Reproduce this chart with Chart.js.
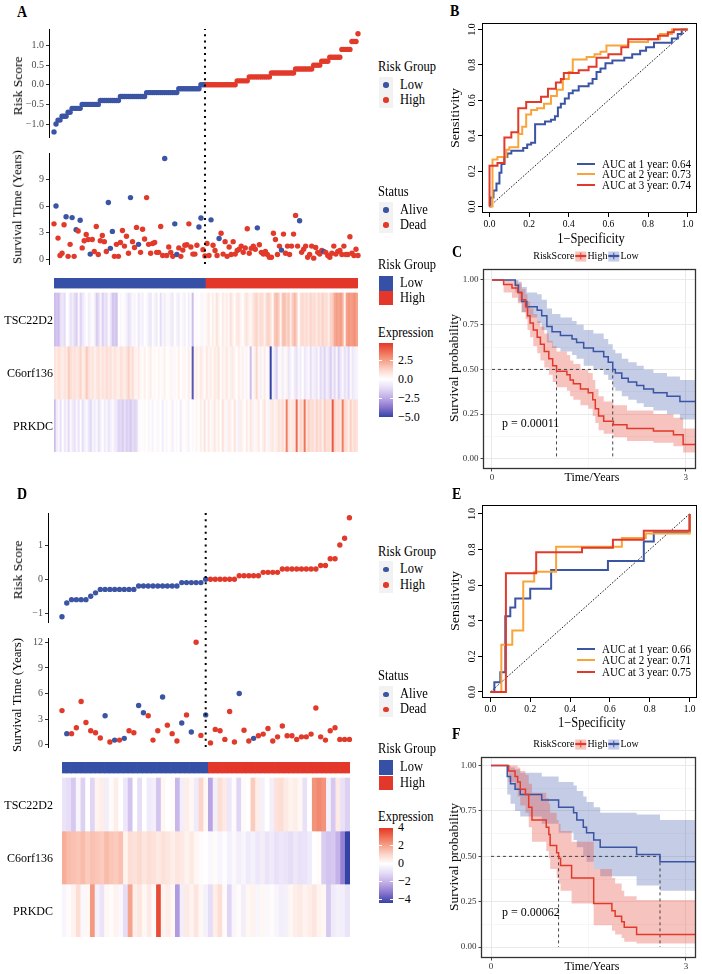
<!DOCTYPE html>
<html><head><meta charset="utf-8">
<script src="https://cdn.jsdelivr.net/npm/chart.js@4/dist/chart.umd.min.js"></script>
<style>
body{margin:0;background:#fff;width:702px;height:974px;position:relative;overflow:hidden;font-family:"Liberation Serif","Times New Roman",serif;}
canvas{position:absolute;}
.t{position:absolute;white-space:nowrap;line-height:1;color:#000;}
.r{position:absolute;}
</style></head><body>
<script>
// ================= DATA =================
// Panel A (training cohort): samples ordered by risk score
const nLowA = 76;
const riskScoreA = [
-1.2,-1.0,-0.9,-0.9,-0.8,-0.8,-0.8,-0.7,-0.7,-0.6,-0.6,-0.6,-0.6,-0.6,
-0.5,-0.5,-0.5,-0.5,-0.5,-0.5,-0.5,-0.5,-0.5,
-0.4,-0.4,-0.4,-0.4,-0.4,-0.4,-0.4,-0.4,-0.4,-0.4,
-0.3,-0.3,-0.3,-0.3,-0.3,-0.3,-0.3,-0.3,-0.3,-0.3,-0.3,-0.3,-0.3,
-0.2,-0.2,-0.2,-0.2,-0.2,-0.2,-0.2,-0.2,-0.2,-0.2,-0.2,-0.2,-0.2,-0.2,-0.2,-0.2,
-0.1,-0.1,-0.1,-0.1,-0.1,-0.1,-0.1,-0.1,-0.1,-0.1,-0.1,
0,0,0,
0,0,0,0,0,0,0,0,0,0,0,0,0,0,0,
0.1,0.1,0.1,0.1,0.1,0.1,
0.2,0.2,0.2,0.2,0.2,0.2,0.2,0.2,0.2,0.2,0.2,
0.3,0.3,0.3,0.3,0.3,0.3,0.3,0.3,0.3,0.3,0.3,0.3,
0.4,0.4,0.4,0.4,0.4,0.4,0.4,0.4,0.4,
0.5,0.5,0.5,0.5,0.6,0.6,0.6,0.6,
0.7,0.7,0.7,0.7,0.7,0.7,0.9,0.9,0.9,0.9,0.9,1.1,1.1,1.1,1.3];
const survTimeA = [
4.0,6.0,2.4,0.45,0.7,3.9,4.8,0.35,1.7,4.7,
0.35,3.35,3.2,4.4,1.3,2.1,2.8,2.25,0.6,2.25,
0.9,3.7,0.55,2.1,2.7,2.0,0.9,6.4,1.25,3.15,
0.35,1.7,0.35,1.9,3.25,1.5,2.6,0.7,6.95,2.0,
1.35,3.6,1.7,0.8,3.4,2.3,6.95,1.7,0.7,1.8,
1.9,0.8,0.8,3.7,0.45,11.35,0.45,1.4,0.8,0.35,
4.0,0.55,1.3,0.35,1.05,1.6,1.65,4.0,1.4,0.6,
0.6,1.6,3.65,4.65,1.1,0.4,
1.8,0.45,4.45,1.6,1.0,0.45,2.35,2.95,0.6,2.0,
0.35,1.4,0.55,2.0,0.6,1.0,1.15,1.5,0.8,1.3,
3.45,0.7,1.25,1.5,1.15,3.55,1.65,0.8,0.6,0.9,
0.55,0.25,0.25,2.95,2.25,0.55,1.5,1.05,2.85,0.7,
1.5,0.55,1.5,2.85,4.95,1.5,4.35,0.8,1.15,1.5,
0.25,0.55,1.5,0.15,1.35,0.8,0.6,1.0,0.9,0.8,
0.45,0.25,0.7,1.5,0.6,0.9,1.0,0.55,1.5,0.55,
0.55,2.55,0.7,0.45,1.15,0.45];
// 1 = Dead, 0 = Alive
const statusA = [
1,0,1,1,1,1,0,1,1,0, 1,0,1,0,1,1,1,1,0,1, 1,1,1,1,1,1,1,0,0,0, 1,1,1,1,1,1,1,1,0,1,
1,1,0,1,1,1,1,1,1,1, 1,1,1,1,1,0,1,1,1,1, 0,0,1,1,1,1,1,1,1,1, 1,1,0,0,1,1,
1,1,0,1,1,1,0,1,1,1, 1,1,1,1,1,1,1,1,1,1, 1,1,1,1,1,0,1,1,1,1, 1,1,1,1,1,1,1,0,1,1,
1,1,1,1,1,1,0,1,1,1, 1,1,1,1,1,1,1,1,0,1, 1,1,1,1,1,1,1,1,1,1, 1,1,1,1,1,1];
const genes = ['TSC22D2','C6orf136','PRKDC'];
const exprA_TSC22D2 = [
-2.0,-1.8,-2.0,-1.0,-0.8,-1.2,0,-0.2,-1.0,-0.6,-1.2,-1.5,-0.3,-1.4,-0.8,-0.4,0,-0.6,-0.3,0.1,-0.5,
-1.6,-1.2,-0.4,-1.5,-0.9,-1.1,-0.2,-0.8,-1.8,-1.6,-1.9,0,-0.3,0.1,-0.2,-0.5,-1.0,-0.7,-0.2,
-0.4,0.1,-0.8,-0.3,-0.5,0,-0.2,-0.6,-0.9,0.1,-0.4,-0.7,0,-1.1,-0.3,-0.6,-0.2,0.2,-0.5,-0.8,0,
-0.4,-0.7,0.1,-0.3,-0.5,0,-0.6,-0.2,-2.0,0.1,-0.2,0,0.2,-0.3,0.1,
0.3,0.6,0.1,0.5,0.2,0.8,0.4,0.0,0.6,0.3,0.5,0.2,0.9,0.4,0.1,0.6,0.7,0.3,0.0,0.5,0.8,0.4,0.2,
0.6,1.0,1.2,0.7,1.0,0.9,0.4,1.1,1.3,0.8,0.2,
1.5,1.8,1.4,0.3,1.6,1.7,1.2,1.5,0.6,1.4,1.9,1.3,0.0,0.9,1.1,0.8,1.0,0.7,
1.2,0.9,1.0,0.6,1.1,0.8,1.3,0.9,1.0,0.5,1.2,1.4,
2.2,2.5,2.3,2.6,2.0,0.3,2.4,2.7,2.5,2.6,2.8,2.4];
const exprA_C6orf136 = [
0.8,0.6,0.9,0.7,0.5,0.8,0.6,1.4,1.0,0.7,0.9,
0.6,0.8,1.2,0.5,0.7,1.5,0.9,0.6,0.8,0.4,
0.7,0.9,0.5,0.8,0.6,1.0,0.7,0.9,0.5,0.8,
0.6,0.4,0.9,0.7,0.5,0.8,1.3,0.6,1.0,0.4,
0.3,0.6,0.2,0.1,0.4,0.0,0.3,0.5,0.1,0.2,
0.0,0.3,-0.1,0.2,0.4,0.0,0.1,0.3,-0.2,0.2,
0.1,0.4,0.0,0.2,0.3,-0.1,0.5,0.2,-4.5,
0.3,0.5,0.2,0.6,0.4,0.1,0.7,0.3,0.5,0.2,
0.6,0.4,0.8,0.1,0.5,0.3,0.7,0.2,0.4,0.6,
0.3,0.0,0.5,0.2,0.4,-0.2,0.3,0.1,-2.0,0.2,
0.4,1.2,0.3,-0.5,0.2,0.6,0.1,-0.3,-5.0,-0.4,
-0.8,-1.5,-0.3,0.2,-0.6,-0.2,0.3,-0.9,-0.4,0.1,
-0.7,-1.0,-0.3,-0.6,0.0,-0.8,-0.5,-0.2,-1.1,-0.4,
-0.6,-0.9,-0.3,-1.2,-0.7,-1.4,-0.5,-0.9,-1.6,-0.6,
-1.2,-0.4,-1.5,-0.8,-0.3,-1.0,-0.6,-1.3,-0.2,-0.8,-0.5,-0.4];
const exprA_PRKDC = [
-2.0,-0.6,-0.3,-1.0,0.0,-0.8,-0.4,-1.2,-0.2,-0.7,-1.0,
-0.3,-0.9,-0.1,-1.1,-0.5,-0.2,-0.8,-1.3,-0.4,-0.6,
-0.2,-1.0,-0.5,0.0,-0.7,-0.3,-0.9,-0.5,-0.2,-0.6,
-0.8,-1.4,-1.2,-1.6,-1.0,-1.5,-1.3,-1.7,-1.1,-1.4,
-1.2,-0.2,0.1,-0.1,0.2,0.0,-0.3,0.1,-0.4,0.0,
0.2,-0.2,0.0,-0.6,0.1,-0.3,0.0,0.2,-0.5,0.1,
-0.2,0.0,-0.7,0.1,-0.1,0.2,-0.4,0.0,-0.2,0.1,
0.3,0.0,0.5,0.2,0.8,0.1,0.6,-0.2,0.3,0.7,
0.2,0.5,0.0,0.9,0.3,-0.3,0.6,0.4,0.1,0.8,
0.2,-0.5,0.5,0.3,0.0,0.6,0.2,0.7,0.4,-0.2,
0.3,0.6,0.1,0.4,0.8,0.2,-0.4,0.5,0.7,0.3,
0.5,0.9,0.6,1.0,0.4,3.2,0.8,0.5,0.7,0.6,
3.6,0.6,1.2,0.8,3.4,0.7,1.3,0.9,1.0,0.6,
1.2,0.8,1.1,0.5,1.4,0.9,1.0,0.7,4.0,1.2,
0.8,1.0,0.6,3.2,1.1,0.9,0.5,1.3,0.7,1.0,0.8];

// Panel D (validation cohort)
const nLowD = 31;
const riskScoreD = [
-1.1,-0.7,-0.6,-0.6,-0.6,-0.6,-0.5,-0.4,
-0.3,-0.3,-0.3,-0.3,-0.3,-0.3,-0.3,-0.3,
-0.2,-0.2,-0.2,-0.2,-0.2,-0.2,-0.2,-0.2,-0.2,
-0.1,-0.1,-0.1,-0.1,-0.1,0.0,
0,0,0,0,0,0, 0.1,0.1,0.1,0.1,0.1, 0.2,0.2,0.2,0.2,
0.3,0.3,0.3,0.3,0.3,0.3,0.3,0.3, 0.4,0.4, 0.6,0.6, 1.0,1.2,1.8];
const survTimeD = [
4.0,1.3,1.3,2.0,5.07,2.6,1.65,1.4,0.8,3.4,
0.33,0.55,0.55,0.75,1.65,1.4,4.6,3.75,3.4,0.55,
1.65,5.6,2.3,1.3,0.45,2.55,3.5,1.5,12.0,1.1,3.5,
0.22,1.8,1.65,0.63,3.9,0.33,6.0,1.7,0.45,0.75,
1.05,1.25,1.9,0.45,0.93,2.2,1.05,1.05,0.63,0.93,
0.93,1.25,4.3,0.93,0.55,1.65,2.0,0.63,0.63,0.63];
const statusD = [
1,0,1,1,1,1,1,1,1,0, 1,0,1,0,1,1,0,0,1,1, 1,0,1,1,1,0,1,0,1,1,0,
1,1,1,1,1,1,0,1,1,0, 1,1,1,1,1,1,1,1,1,1, 1,1,1,1,1,1,1,1,1,1];
const exprD_TSC22D2 = [
-0.8,-1.0,-1.5,-0.3,-1.3,0,-1.2,0.3,0.4,-0.5,
0.1,0.4,0,-0.7,-1.6,0,-1.0,0,-0.6,-0.5,
-1.6,0.2,0,0.1,-1.9,-0.5,0.4,0.2,-0.6,1.0,
0.2,-2.3,-0.5,0.8,0.5,-0.7,0.1,-1.2,0.1,0,
1.2,0.4,-0.4,0,-0.5,0.7,0.8,0.5,0.3,0.4,
0.2,-0.9,0,2.3,2.5,2.3,-0.4,-1.5,0.5,-0.9,-1.3];
const exprD_C6orf136 = [
1.8,1.5,1.4,1.3,1.5,1.2,1.4,1.3,1.2,1.5,
1.3,1.2,1.4,0.3,0.8,0.7,0.9,0.6,0.8,0.7,
0.5,0.7,0.6,0.4,0.6,0.5,0.3,0.5,0.2,0.1,
0.0,-0.2,0.1,-0.3,-0.1,-0.4,-0.2,-0.5,-0.3,-0.6,
-0.4,-0.7,-0.5,-0.8,-0.6,-0.9,-0.7,-0.8,-1.0,-0.7,
-0.9,-0.8,-0.6,0.0,0.1,-1.4,-1.6,-1.5,-2.0,-3.0,-4.5];
const exprD_PRKDC = [
-0.3,0.1,0.3,0.8,-0.2,0.2,2.2,-0.4,-0.8,0.2,
0.1,0.3,-0.2,-1.0,2.0,0.4,0.6,0.2,0.5,0.1,
3.6,0.3,0.4,0.2,-2.5,-0.5,0.5,0.3,0.6,0.2,
-0.4,-1.0,0.4,0.8,0.1,-1.2,-0.3,0.1,-0.5,0.2,
0.3,-0.3,0.2,-0.2,0.1,-0.3,-0.5,-0.4,0.2,0.4,
0.5,0.3,0.4,0.6,0.3,0.2,-1.5,-0.6,-0.4,-0.5,-0.8];

// ROC curves (corner points of the staircase)
const rocB_1y_fpr = [0,0.005,0.02,0.035,0.05,0.06,0.075,0.09,0.11,0.17,0.19,0.21,0.23,0.28,0.31,0.33,0.345,0.36,0.38,0.40,0.42,0.45,0.50,0.52,0.54,0.56,0.585,0.62,0.68,0.72,0.76,0.79,0.83,0.92,0.95,0.97,1];
const rocB_1y_tpr = [0,0.05,0.09,0.13,0.19,0.24,0.28,0.30,0.315,0.33,0.35,0.36,0.465,0.48,0.49,0.51,0.56,0.58,0.61,0.64,0.655,0.68,0.695,0.72,0.76,0.78,0.81,0.825,0.84,0.86,0.88,0.90,0.925,0.95,0.975,1,1];
const rocB_2y_fpr = [0,0.015,0.04,0.085,0.10,0.145,0.165,0.185,0.21,0.24,0.275,0.31,0.34,0.37,0.40,0.42,0.49,0.53,0.56,0.59,0.70,0.80,0.86,0.92,1];
const rocB_2y_tpr = [0,0.265,0.28,0.32,0.335,0.41,0.45,0.52,0.545,0.555,0.58,0.625,0.66,0.72,0.76,0.83,0.845,0.86,0.875,0.91,0.93,0.945,0.975,1,1];
const rocB_3y_fpr = [0,0,0.04,0.075,0.11,0.145,0.185,0.26,0.295,0.335,0.36,0.375,0.45,0.50,0.54,0.60,0.665,0.70,0.85,0.90,0.93,1];
const rocB_3y_tpr = [0,0.23,0.245,0.39,0.42,0.555,0.59,0.62,0.665,0.70,0.72,0.755,0.77,0.79,0.84,0.86,0.90,0.945,0.965,0.985,1,1];
const rocB_labels = ['AUC at 1 year: 0.64','AUC at 2 year: 0.73','AUC at 3 year: 0.74'];
const rocE_1y_fpr = [0,0.02,0.05,0.075,0.10,0.125,0.20,0.305,0.59,0.77,0.82,1];
const rocE_1y_tpr = [0,0.055,0.11,0.425,0.475,0.525,0.58,0.685,0.735,0.845,0.895,1];
const rocE_2y_fpr = [0,0.055,0.11,0.165,0.22,0.33,0.66,0.78,1];
const rocE_2y_tpr = [0,0.265,0.345,0.62,0.675,0.815,0.865,0.89,1];
const rocE_3y_fpr = [0,0.078,0.23,0.46,0.615,0.77,1];
const rocE_3y_tpr = [0,0.667,0.785,0.81,0.855,0.905,1];
const rocE_labels = ['AUC at 1 year: 0.66','AUC at 2 year: 0.71','AUC at 3 year: 0.75'];
const rocTicks = [0,0.2,0.4,0.6,0.8,1.0];

// Kaplan-Meier curves
const kmC_high_t  = [0,0.18,0.31,0.40,0.46,0.52,0.55,0.59,0.64,0.70,0.75,0.81,0.88,0.94,1.00,1.16,1.21,1.26,1.37,1.49,1.56,1.60,1.65,1.73,1.88,2.09,2.50,2.81,2.96,3.16];
const kmC_high_s  = [1.0,0.975,0.955,0.93,0.89,0.85,0.80,0.76,0.72,0.68,0.64,0.60,0.56,0.52,0.49,0.47,0.44,0.42,0.39,0.37,0.33,0.28,0.24,0.21,0.19,0.17,0.155,0.135,0.08,0.08];
const kmC_high_up = [1.0,1.0,0.995,0.98,0.95,0.92,0.88,0.84,0.81,0.77,0.74,0.70,0.66,0.63,0.60,0.58,0.55,0.53,0.50,0.48,0.44,0.39,0.35,0.32,0.30,0.27,0.25,0.23,0.17,0.17];
const kmC_high_lo = [1.0,0.93,0.90,0.87,0.82,0.78,0.72,0.68,0.63,0.59,0.55,0.51,0.47,0.43,0.40,0.38,0.35,0.33,0.30,0.28,0.24,0.20,0.16,0.14,0.12,0.10,0.09,0.07,0.035,0.035];
const kmC_low_t   = [0,0.36,0.41,0.46,0.54,0.70,0.77,0.85,0.93,1.06,1.24,1.31,1.42,1.57,1.73,1.80,1.87,1.91,2.01,2.11,2.24,2.35,2.50,2.71,2.91,3.16];
const kmC_low_s   = [1.0,0.97,0.93,0.88,0.85,0.83,0.80,0.74,0.71,0.69,0.67,0.65,0.62,0.60,0.57,0.54,0.50,0.48,0.45,0.43,0.41,0.39,0.37,0.35,0.32,0.32];
const kmC_low_up  = [1.0,1.0,0.99,0.96,0.93,0.92,0.89,0.84,0.81,0.79,0.77,0.75,0.72,0.70,0.67,0.64,0.61,0.59,0.56,0.54,0.52,0.50,0.48,0.46,0.44,0.44];
const kmC_low_lo  = [1.0,0.93,0.88,0.82,0.79,0.76,0.72,0.65,0.62,0.60,0.58,0.56,0.52,0.50,0.47,0.44,0.40,0.38,0.35,0.33,0.31,0.29,0.27,0.25,0.22,0.22];
const kmC_medians = [1.0,1.87];
const kmC_p = 'p = 0.00011';
const kmF_high_t  = [0,0.27,0.37,0.41,0.45,0.53,0.58,0.63,0.85,0.89,0.91,1.01,1.04,1.07,1.24,1.58,1.86,1.91,2.01,2.05,2.24,3.15];
const kmF_high_s  = [1.0,0.97,0.94,0.91,0.87,0.84,0.77,0.70,0.66,0.62,0.56,0.52,0.49,0.45,0.38,0.24,0.20,0.17,0.14,0.11,0.07,0.07];
const kmF_high_up = [1.0,1.0,1.0,0.99,0.97,0.95,0.90,0.85,0.82,0.79,0.74,0.70,0.68,0.64,0.58,0.43,0.38,0.35,0.31,0.28,0.26,0.26];
const kmF_high_lo = [1.0,0.91,0.87,0.83,0.78,0.74,0.66,0.58,0.53,0.49,0.43,0.38,0.35,0.31,0.24,0.12,0.09,0.07,0.05,0.03,0.02,0.02];
const kmF_low_t   = [0,0.25,0.30,0.37,0.45,0.78,1.04,1.27,1.32,1.42,1.47,1.58,1.68,2.24,2.60,3.15];
const kmF_low_s   = [1.0,0.94,0.90,0.87,0.84,0.81,0.77,0.74,0.70,0.66,0.63,0.59,0.55,0.51,0.47,0.47];
const kmF_low_up  = [1.0,1.0,0.99,0.98,0.96,0.94,0.91,0.89,0.86,0.83,0.80,0.77,0.74,0.73,0.70,0.70];
const kmF_low_lo  = [1.0,0.84,0.79,0.75,0.72,0.68,0.63,0.59,0.55,0.50,0.47,0.43,0.39,0.34,0.31,0.31];
const kmF_medians = [1.04,2.60];
const kmF_p = 'p = 0.00062';
const kmXTicks = [0,1.5,3];
const kmYTicks = [0,0.125,0.25,0.375,0.5,0.625,0.75,0.875,1];

const riskTicksA = [-1.0,-0.5,0,0.5,1.0];
const survTicksA = [0,3,6,9];
const riskTicksD = [-1,0,1];
const survTicksD = [0,3,6,9,12];
const exprTicksA = [2.5,0,-2.5,-5];
const exprTicksD = [4,2,0,-2,-4];

// ================= STYLE / HELPERS =================
const FONT = '"Liberation Serif","Times New Roman",serif';
const BLUE = '#3B54A4', RED = '#E23A2A', ORANGE = '#F9A43A';
const HBLUE = '#3650A6', HRED = '#E2372A';
const SY = 1.12;
Chart.defaults.font.family = FONT;
Chart.defaults.color = '#000';

const NEG = [[0,[255,255,255]],[0.25,[228,218,245]],[0.5,[190,170,230]],[0.75,[136,116,205]],[1,[52,66,166]]];
const POS = [[0,[255,255,255]],[0.25,[252,214,203]],[0.5,[246,164,141]],[0.75,[239,110,84]],[1,[226,56,38]]];
function ramp(stops,t){t=Math.max(0,Math.min(1,t));for(let i=1;i<stops.length;i++){if(t<=stops[i][0]){const a=stops[i-1],b=stops[i];const f=(t-a[0])/(b[0]-a[0]);const c=a[1].map((v,k)=>Math.round(v+(b[1][k]-v)*f));return `rgb(${c[0]},${c[1]},${c[2]})`;}}const c=stops[stops.length-1][1];return `rgb(${c[0]},${c[1]},${c[2]})`;}
function heat(v,vmin,vmax){return v>=0?ramp(POS,v/vmax):ramp(NEG,v/vmin);}
function gradCSS(vmin,vmax){const st=[];const p=v=>((vmax-v)/(vmax-vmin)*100).toFixed(2)+'%';
  for(let i=POS.length-1;i>=0;i--){st.push(ramp(POS,POS[i][0])+' '+p(POS[i][0]*vmax));}
  for(let i=1;i<NEG.length;i++){st.push(ramp(NEG,NEG[i][0])+' '+p(NEG[i][0]*vmin));}
  return 'linear-gradient(to bottom,'+st.join(',')+')';}

function T(str,x,y,o={}){const d=document.createElement('div');d.className='t';d.textContent=str;
  d.style.fontSize=(o.size||12)+'px';if(o.bold)d.style.fontWeight='bold';if(o.color)d.style.color=o.color;
  d.style.left=x+'px';d.style.top=y+'px';const s=o.sy||SY;
  if(o.rot){d.style.transform=`translate(-50%,-50%) rotate(-90deg) scaleX(${s})`;}
  else{const ax=o.align==='right'?'-100%':o.align==='center'?'-50%':'0';d.style.transform=`translate(${ax},-50%) scaleY(${s})`;}
  document.body.appendChild(d);return d;}
function R(x,y,w,h,bg,extra){const d=document.createElement('div');d.className='r';d.style.left=x+'px';d.style.top=y+'px';d.style.width=w+'px';d.style.height=h+'px';d.style.background=bg;if(extra)Object.assign(d.style,extra);document.body.appendChild(d);return d;}
function dot(cx,cy,r,c){R(cx-r,cy-r,2*r,2*r,c,{borderRadius:'50%'});}

function mk(rect,area,cfg){const c=document.createElement('canvas');c.width=rect.w;c.height=rect.h;c.style.left=rect.x+'px';c.style.top=rect.y+'px';document.body.appendChild(c);
  const o=cfg.options;o.responsive=false;o.animation=false;o.devicePixelRatio=1;o.events=[];
  o.layout={autoPadding:false,padding:{left:0,right:rect.x+rect.w-(area.x+area.w),top:area.y-rect.y,bottom:0}};
  o.plugins=Object.assign({legend:{display:false},tooltip:{enabled:false}},o.plugins||{});
  o.scales.x.afterFit=s=>{s.height=rect.y+rect.h-(area.y+area.h);};
  o.scales.y.afterFit=s=>{s.width=area.x-rect.x;};
  return new Chart(c,cfg);}
const hiddenX=(min,max)=>({type:'linear',min,max,ticks:{display:false},grid:{display:false},border:{display:false}});
const fmtMinus=(v,d)=>(v<0?'\u2212':'')+Math.abs(v).toFixed(d);
const setTicks=arr=>s=>{s.ticks=arr.map(v=>({value:v}));};
const pts=(xs,ys)=>xs.map((x,i)=>({x,y:ys[i]}));

const boxPlug={id:'box',afterDatasetsDraw(ch,a,opts){const r=ch.chartArea,ctx=ch.ctx;ctx.save();ctx.strokeStyle=opts.color||'#000';ctx.lineWidth=opts.width||1;
  ctx.strokeRect(Math.round(r.left)+0.5,Math.round(r.top)+0.5,Math.round(r.right-r.left)-1,Math.round(r.bottom-r.top)-1);ctx.restore();}};
const rotY={id:'rotY',afterDraw(ch,a,opts){const s=ch.scales.y,ctx=ch.ctx;ctx.save();ctx.fillStyle='#000';ctx.font=opts.font;ctx.textAlign='center';ctx.textBaseline='middle';
  s.ticks.forEach(t=>{const y=s.getPixelForValue(t.value);ctx.save();ctx.translate(opts.x,y);ctx.rotate(-Math.PI/2);ctx.fillText(t.value.toFixed(1),0,0);ctx.restore();});ctx.restore();}};

// ---------- risk score scatter ----------
function riskChart(rect,area,scores,nLow,xmin,xmax,ymin,ymax,ticks,dec){
  return mk(rect,area,{type:'scatter',data:{datasets:[
    {type:'line',data:[{x:nLow-1,y:ymin},{x:nLow-1,y:ymax}],borderColor:'#000',borderWidth:2,borderDash:[2,4.3],pointRadius:0,clip:false,order:0},
    {data:scores.map((v,i)=>({x:i,y:v})),pointBackgroundColor:scores.map((v,i)=>i<nLow?BLUE:RED),pointRadius:2.7,pointBorderWidth:0,clip:false,order:1}]},
   options:{scales:{x:hiddenX(xmin,xmax),
     y:{min:ymin,max:ymax,afterBuildTicks:setTicks(ticks),ticks:{callback:v=>fmtMinus(v,dec),font:{size:10},color:'#4d4d4d',padding:2},
        grid:{display:true,drawOnChartArea:false,drawTicks:true,tickLength:3,color:'#333'},border:{display:true,color:'#000',width:1}}}}});}
function survChart(rect,area,times,status,nLow,xmin,xmax,ymin,ymax,ytop,ticks){
  return mk(rect,area,{type:'scatter',data:{datasets:[
    {type:'line',data:[{x:nLow-1,y:ymin},{x:nLow-1,y:ytop}],borderColor:'#000',borderWidth:2,borderDash:[2,4.3],pointRadius:0,clip:false,order:0},
    {data:times.map((v,i)=>({x:i,y:v})),pointBackgroundColor:status.map(s=>s?RED:BLUE),pointRadius:2.7,pointBorderWidth:0,clip:false,order:1}]},
   options:{scales:{x:hiddenX(xmin,xmax),
     y:{min:ymin,max:ymax,afterBuildTicks:setTicks(ticks),ticks:{callback:v=>String(v),font:{size:10},color:'#4d4d4d',padding:2},
        grid:{display:true,drawOnChartArea:false,drawTicks:true,tickLength:3,color:'#333'},border:{display:true,color:'#000',width:1}}}}});}
function heatChart(rect,area,nLow,rows,vmin,vmax,gapTop,ymax){
  const n=rows[0].length,idx=rows[0].map((_,i)=>i);
  const ds=[{data:idx.map(()=>[gapTop,ymax]),backgroundColor:idx.map(i=>i<nLow?HBLUE:HRED)}];
  rows.forEach((r,k)=>{const lo=2-k;ds.push({data:r.map(()=>[lo,lo+1]),backgroundColor:r.map(v=>heat(v,vmin,vmax))});});
  return mk(rect,area,{type:'bar',data:{labels:idx,datasets:ds},
    options:{datasets:{bar:{grouped:false,categoryPercentage:1,barPercentage:1,borderWidth:0}},
     scales:{x:{type:'category',ticks:{display:false},grid:{display:false},border:{display:false}},
       y:{min:0,max:ymax,ticks:{display:false},grid:{display:false},border:{display:false}}}}});}
function rocChart(rect,area,curves,xr,yr){
  const ds=curves.map((c,i)=>({data:pts(c[0],c[1]),borderColor:c[2],borderWidth:2,stepped:true,pointRadius:0,borderJoinStyle:'miter',order:3-i}));
  ds.push({data:[{x:0,y:0},{x:1,y:1}],borderColor:'#000',borderWidth:0.9,borderDash:[1.6,1.6],pointRadius:0,order:5});
  return mk(rect,area,{type:'line',data:{datasets:ds},plugins:[boxPlug,rotY],
    options:{plugins:{box:{color:'#000',width:1},rotY:{x:area.x-rect.x-10,font:'9.5px '+FONT}},
     scales:{x:{type:'linear',min:xr[0],max:xr[1],afterBuildTicks:setTicks(rocTicks),ticks:{callback:v=>v.toFixed(1),font:{size:9.5},color:'#000',padding:2,autoSkip:false,maxRotation:0},
        grid:{drawOnChartArea:false,drawTicks:true,tickLength:4,color:'#000'},border:{display:false}},
       y:{type:'linear',min:yr[0],max:yr[1],afterBuildTicks:setTicks(rocTicks),ticks:{color:'rgba(0,0,0,0)',font:{size:9.5}},
        grid:{drawOnChartArea:false,drawTicks:true,tickLength:4,color:'#000'},border:{display:false}}}}});}
function kmChart(rect,area,H,L,med,xr,yr){
  const band=(t,u,l,col,ord)=>[{data:pts(t,u),stepped:true,borderWidth:0,pointRadius:0,fill:false,order:ord},
                               {data:pts(t,l),stepped:true,borderWidth:0,pointRadius:0,fill:'-1',backgroundColor:col,order:ord}];
  const ds=[].concat(band(L[0],L[2],L[3],'rgba(62,86,170,0.30)',12),band(H[0],H[2],H[3],'rgba(232,72,60,0.33)',11));
  const dash={borderColor:'#333',borderWidth:0.9,borderDash:[3,3],pointRadius:0,order:5,fill:false};
  ds.push(Object.assign({data:[{x:0,y:0.5},{x:med[1],y:0.5}]},dash));
  ds.push(Object.assign({data:[{x:med[0],y:0.5},{x:med[0],y:0}]},dash));
  ds.push(Object.assign({data:[{x:med[1],y:0.5},{x:med[1],y:0}]},dash));
  ds.push({data:pts(L[0],L[1]),stepped:true,borderColor:BLUE,borderWidth:1.5,pointRadius:0,fill:false,order:2});
  ds.push({data:pts(H[0],H[1]),stepped:true,borderColor:RED,borderWidth:1.5,pointRadius:0,fill:false,order:1});
  const major=v=>Math.abs(v*4-Math.round(v*4))<1e-6;
  return mk(rect,area,{type:'line',data:{datasets:ds},plugins:[boxPlug],
    options:{plugins:{box:{color:'#333',width:1.3},filler:{propagate:false}},
     scales:{x:{type:'linear',min:xr[0],max:xr[1],afterBuildTicks:setTicks(kmXTicks),
        ticks:{callback:v=>(v===0||v===3)?String(v):'',font:{size:9},color:'#333',padding:1,autoSkip:false,maxRotation:0},
        grid:{drawTicks:true,tickLength:2.5,color:c=>(c.tick&&c.tick.value===1.5)?'#f2f2f2':'#e6e6e6',lineWidth:c=>(c.tick&&c.tick.value===1.5)?0.6:0.9,
              tickColor:c=>(c.tick&&c.tick.value===1.5)?'rgba(0,0,0,0)':'#333'},border:{display:false}},
       y:{type:'linear',min:yr[0],max:yr[1],afterBuildTicks:setTicks(kmYTicks),
        ticks:{callback:v=>major(v)?v.toFixed(2):'',font:{size:9},color:'#333',padding:2,autoSkip:false},
        grid:{drawTicks:true,tickLength:2.5,color:c=>(c.tick&&major(c.tick.value))?'#e6e6e6':'#f2f2f2',lineWidth:c=>(c.tick&&major(c.tick.value))?0.9:0.6,
              tickColor:c=>(c.tick&&major(c.tick.value))?'#333':'rgba(0,0,0,0)'},border:{display:false}}}}});}

// ---------- legends ----------
function pointLegend(title,x,ty,items){T(title,378,ty,{size:12.5});
  const y0=items[0][2]-8,y1=items[items.length-1][2]+8;R(379,y0,14,y1-y0,'#f2f2f2');
  items.forEach(it=>{dot(386,it[2],2.7,it[1]);T(it[0],400,it[2],{size:12.5});});}
function boxLegend(title,ty,items){T(title,378,ty,{size:12.5});
  items.forEach(it=>{R(379,it[2],14,14.5,it[1]);T(it[0],400,it[2]+7.2,{size:12.5});});}
function colorbar(ty,top,bot,vmin,vmax,ticks,dec){T('Expression',378,ty,{size:12.5});
  R(379,top,14,bot-top,gradCSS(vmin,vmax));
  ticks.forEach(v=>{const y=top+(vmax-v)/(vmax-vmin)*(bot-top);R(379,y-0.5,3,1,'#fff');R(390,y-0.5,3,1,'#fff');
    T(dec?fmtMinus(v,dec):(v<0?'\u2212'+Math.abs(v):String(v)),398,y,{size:12});});}
function kmLegend(cx,cy){const c=document.createElement('div');c.className='t';c.style.left=cx+'px';c.style.top=cy+'px';
  c.style.transform=`translate(-50%,-50%) scaleY(${SY})`;c.style.display='flex';c.style.alignItems='center';c.style.fontSize='10px';
  const txt=s=>{const e=document.createElement('span');e.textContent=s;c.appendChild(e);};
  const sym=(col,fill)=>{const e=document.createElement('span');e.style.cssText=`display:inline-block;position:relative;width:11px;height:9px;background:${fill};margin:0 1px;`;
    const h=document.createElement('span');h.style.cssText=`position:absolute;left:0;top:3.9px;width:11px;height:1.3px;background:${col};`;
    const v=document.createElement('span');v.style.cssText=`position:absolute;left:4.9px;top:1.6px;width:1.2px;height:6px;background:${col};`;
    e.appendChild(h);e.appendChild(v);c.appendChild(e);};
  txt('RiskScore');sym(RED,'#f6c3bd');txt('High');sym(BLUE,'#c6cde8');txt('Low');document.body.appendChild(c);}
function rocLegend(x0,ys,labels){const cols=[BLUE,ORANGE,RED];labels.forEach((l,i)=>{R(x0,ys[i]-1,18,2,cols[i]);T(l,x0+25,ys[i],{size:11});});}

// ================= PANEL A =================
T('A',17,13,{size:14,bold:true});
riskChart({x:0,y:20,w:372,h:125},{x:49,y:29,w:323,h:113},riskScoreA,nLowA,-2.48,157.96,-1.33,1.42,riskTicksA,1);
T('Risk Score',18,86,{size:12,rot:true});
pointLegend('Risk Group',378,67,[['Low',BLUE,85],['High',RED,100]]);
survChart({x:0,y:140,w:372,h:132},{x:49,y:153,w:323,h:114},survTimeA,statusA,nLowA,-2.48,157.96,-0.51,11.96,13.16,survTicksA);
T('Survival Time (Years)',18,207,{size:11.5,rot:true});
pointLegend('Status',378,192.3,[['Alive',BLUE,210],['Dead',RED,225]]);
heatChart({x:50,y:272,w:312,h:184},{x:54,y:278,w:304,h:174},nLowA,[exprA_TSC22D2,exprA_C6orf136,exprA_PRKDC],-5,4.74,3.094,3.283);
genes.forEach((g,k)=>T(g,53,319.5+53*k,{size:12,align:'right'}));
boxLegend('Risk Group',265,[['Low',HBLUE,276],['High',HRED,290.5]]);
colorbar(332.5,343,417,-5,4.74,exprTicksA,1);

// ================= PANEL B =================
T('B',450,12,{size:14,bold:true});
rocChart({x:440,y:10,w:262,h:225},{x:482,y:23,w:215,h:190},
  [[rocB_1y_fpr,rocB_1y_tpr,BLUE],[rocB_2y_fpr,rocB_2y_tpr,ORANGE],[rocB_3y_fpr,rocB_3y_tpr,RED]],[-0.038,1.047],[-0.037,1.037]);
T('Sensitivity',455,118,{size:12.5,rot:true});
T('1\u2212Specificity',591,238.5,{size:12.5,align:'center'});
rocLegend(577,[164,174.3,184.5],rocB_labels);

// ================= PANEL C =================
T('C',452,253,{size:14,bold:true});
kmLegend(586,256);
kmChart({x:440,y:262,w:262,h:220},{x:483,y:267,w:213,h:202},
  [kmC_high_t,kmC_high_s,kmC_high_up,kmC_high_lo],[kmC_low_t,kmC_low_s,kmC_low_up,kmC_low_lo],kmC_medians,[-0.139,3.159],[-0.057,1.059]);
T('Survival probability',454,367.5,{size:12,rot:true});
T('Time/Years',592,476.7,{size:12,align:'center'});
T(kmC_p,502,423,{size:12});

// ================= PANEL D =================
T('D',17,495,{size:14,bold:true});
riskChart({x:0,y:505,w:372,h:125},{x:48,y:513,w:322,h:113},riskScoreD,nLowD,-2.92,64.3,-1.255,1.94,riskTicksD,0);
T('Risk Score',18,570,{size:12,rot:true});
pointLegend('Risk Group',378,551.7,[['Low',BLUE,569.3],['High',RED,585]]);
survChart({x:0,y:620,w:372,h:135},{x:48,y:638,w:322,h:112},survTimeD,statusD,nLowD,-2.92,64.3,-0.26,12.5,13.9,survTicksD);
T('Survival Time (Years)',18,695,{size:11.5,rot:true});
pointLegend('Status',378,676,[['Alive',BLUE,694.3],['Dead',RED,709.3]]);
heatChart({x:58,y:756,w:296,h:186},{x:62,y:762,w:288,h:175},nLowD,[exprD_TSC22D2,exprD_C6orf136,exprD_PRKDC],-4.38,3.96,3.094,3.302);
genes.forEach((g,k)=>T(g,53,804.5+53*k,{size:12,align:'right'}));
boxLegend('Risk Group',749.3,[['Low',HBLUE,760],['High',HRED,775.5]]);
colorbar(816.7,827.7,902.7,-4.38,3.96,exprTicksD,0);

// ================= PANEL E =================
T('E',452,495,{size:14,bold:true});
rocChart({x:440,y:492,w:262,h:227},{x:482,y:505,w:215,h:193},
  [[rocE_1y_fpr,rocE_1y_tpr,BLUE],[rocE_2y_fpr,rocE_2y_tpr,ORANGE],[rocE_3y_fpr,rocE_3y_tpr,RED]],[-0.042,1.037],[-0.034,1.05]);
T('Sensitivity',455,601,{size:12.5,rot:true});
T('1\u2212Specificity',591.7,722.7,{size:12.5,align:'center'});
rocLegend(577,[649.3,660,671.7],rocE_labels);

// ================= PANEL F =================
T('F',452,735,{size:14,bold:true});
kmLegend(586,744);
kmChart({x:440,y:750,w:262,h:222},{x:481,y:757,w:215,h:201},
  [kmF_high_t,kmF_high_s,kmF_high_up,kmF_high_lo],[kmF_low_t,kmF_low_s,kmF_low_up,kmF_low_lo],kmF_medians,[-0.154,3.154],[-0.06,1.045]);
T('Survival probability',454,857,{size:12,rot:true});
T('Time/Years',592,966,{size:12,align:'center'});
T(kmF_p,502,911.7,{size:12});
</script></body></html>
